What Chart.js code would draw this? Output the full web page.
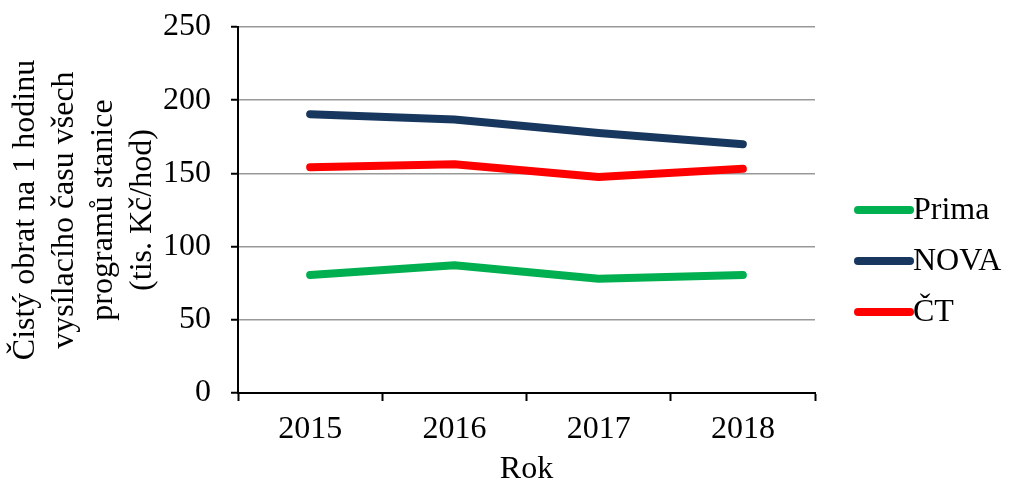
<!DOCTYPE html>
<html>
<head>
<meta charset="utf-8">
<script src="https://cdn.jsdelivr.net/npm/chart.js@4"></script>
<style>
  html, body { margin: 0; padding: 0; background: #fff; }
  #wrap { width: 1010px; height: 486px; }
</style>
</head>
<body>
<div id="wrap"><canvas id="c" width="1010" height="486"></canvas></div>
<script>
const years = ['2015', '2016', '2017', '2018'];
const prima = [80.6, 87.2, 78.1, 80.6];
const nova = [190.4, 186.8, 177.6, 169.9];
const ct = [154.2, 156.3, 147.6, 153.1];
const yTicks = [0, 50, 100, 150, 200, 250];
const seriesNames = ['Prima', 'NOVA', 'ČT'];
const seriesColors = ['#00B050', '#17375E', '#FF0000'];

const serif = "'Liberation Serif', 'Times New Roman', serif";
const fontSize = 32;

// legend drawn by hand, to the right of the plot
const sideLegend = {
    id: 'sideLegend',
    afterDraw(chart) {
        const ctx = chart.ctx;
        const rows = [210, 261, 312];
        ctx.save();
        chart.data.datasets.forEach((ds, i) => {
            const y = rows[i];
            ctx.strokeStyle = ds.borderColor;
            ctx.lineWidth = 8;
            ctx.lineCap = 'round';
            ctx.beginPath();
            ctx.moveTo(858, y);
            ctx.lineTo(910, y);
            ctx.stroke();
            ctx.fillStyle = '#000';
            ctx.font = fontSize + 'px ' + serif;
            ctx.textBaseline = 'middle';
            ctx.textAlign = 'left';
            ctx.fillText(ds.label, 913, y + 1);
        });
        ctx.restore();
    }
};

const lineStyle = (label, data, color) => ({
    label: label,
    data: data,
    borderColor: color,
    backgroundColor: color,
    borderWidth: 8,
    borderCapStyle: 'round',
    borderJoinStyle: 'round',
    pointRadius: 0,
    tension: 0,
    fill: false
});

new Chart(document.getElementById('c'), {
    type: 'line',
    data: {
        labels: years,
        datasets: [
            lineStyle(seriesNames[0], prima, seriesColors[0]),
            lineStyle(seriesNames[1], nova, seriesColors[1]),
            lineStyle(seriesNames[2], ct, seriesColors[2])
        ]
    },
    options: {
        responsive: false,
        animation: false,
        layout: { padding: { left: 0, top: 27, right: 195, bottom: 0 } },
        plugins: { legend: { display: false }, tooltip: { enabled: false } },
        scales: {
            x: {
                offset: true,
                grid: { display: true, offset: true, drawOnChartArea: false, drawTicks: true, tickLength: 8, tickColor: '#000', tickWidth: 2 },
                border: { color: '#000', width: 2 },
                ticks: { color: '#000', font: { family: serif, size: fontSize }, padding: 9 },
                title: { display: true, text: 'Rok', color: '#000', font: { family: serif, size: fontSize, lineHeight: 1 }, padding: { top: 0, bottom: 0 } },
                afterFit: s => { s.height = 93; s.paddingLeft = 0; s.paddingRight = 0; }
            },
            y: {
                min: 0,
                max: 250,
                afterBuildTicks: s => { s.ticks = yTicks.map(v => ({ value: v })); },
                grid: { color: '#999', lineWidth: 1.5, tickColor: '#000', tickLength: 7, tickWidth: 2 },
                border: { color: '#000', width: 2 },
                ticks: { color: '#000', font: { family: serif, size: fontSize }, padding: 20 },
                title: {
                    display: true,
                    text: ['Čistý obrat na 1 hodinu', 'vysílacího času všech', 'programů stanice', '(tis. Kč/hod)'],
                    color: '#000',
                    font: { family: serif, size: fontSize, lineHeight: 1.22 },
                    padding: { top: 6, bottom: 0 }
                },
                afterFit: s => { s.width = 238; s.paddingTop = 0; s.paddingBottom = 0; }
            }
        }
    },
    plugins: [sideLegend]
});
</script>
</body>
</html>
